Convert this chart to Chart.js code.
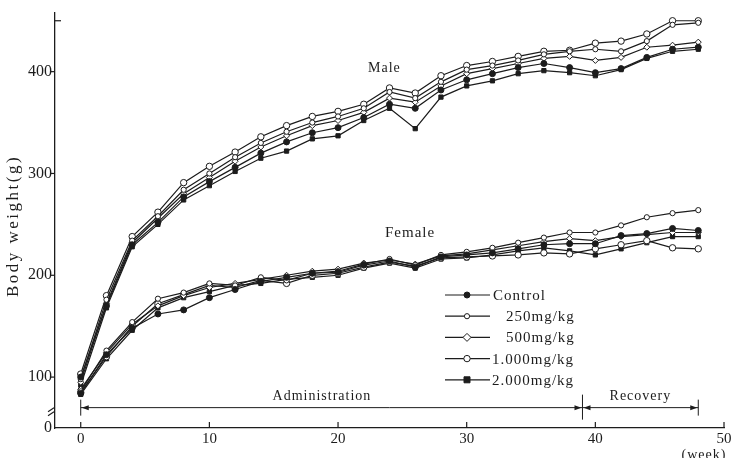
<!DOCTYPE html>
<html>
<head>
<meta charset="utf-8">
<title>Body weight</title>
<script src="https://cdn.jsdelivr.net/npm/chart.js@4.4.0/dist/chart.umd.min.js"></script>
<style>
  html, body { margin: 0; padding: 0; background: #fff; }
  #wrap { width: 735px; height: 458px; }
</style>
</head>
<body>
<div id="wrap"><canvas id="bw"></canvas></div>
<script>
// weeks of measurement
var weeks = [0, 2, 4, 6, 8, 10, 12, 14, 16, 18, 20, 22, 24, 26, 28, 30, 32, 34, 36, 38, 40, 42, 44, 46, 48];
var groups = ['Control', '250mg/kg', '500mg/kg', '1.000mg/kg', '2.000mg/kg'];

// male body weight (g)
var maleControl = [100, 170, 230, 252, 277, 292, 306, 320, 331, 340, 345, 355, 368, 364, 382, 392, 398, 404, 408, 404, 399, 403, 414, 422, 424];
var male250 = [98, 176, 234, 258, 284, 300, 316, 330, 341, 350, 356, 364, 380, 374, 390, 402, 406, 411, 417, 420, 422, 420, 430, 446, 448];
var male500 = [95, 172, 232, 256, 280, 296, 312, 326, 337, 347, 352, 360, 374, 370, 386, 398, 403, 408, 413, 415, 411, 414, 424, 426, 429];
var male1000 = [103, 180, 238, 262, 291, 307, 321, 336, 347, 356, 361, 368, 384, 379, 396, 406, 410, 415, 420, 421, 428, 430, 437, 450, 450];
var male2000 = [92, 168, 228, 250, 274, 288, 302, 315, 322, 334, 337, 352, 364, 344, 375, 386, 391, 398, 401, 399, 396, 402, 413, 420, 422];

// female body weight (g)
var femaleControl = [84, 122, 148, 162, 166, 178, 186, 194, 198, 202, 203, 210, 214, 208, 218, 220, 222, 226, 230, 231, 231, 239, 241, 246, 244];
var female250 = [86, 126, 154, 177, 183, 192, 190, 198, 195, 202, 204, 211, 216, 210, 220, 223, 227, 232, 237, 242, 242, 249, 257, 261, 264];
var female500 = [88, 124, 152, 170, 180, 188, 192, 196, 200, 204, 206, 212, 215, 211, 219, 221, 225, 229, 233, 236, 234, 238, 240, 242, 242];
var female1000 = [85, 120, 150, 172, 181, 190, 188, 195, 192, 200, 202, 208, 213, 209, 217, 218, 219, 220, 222, 221, 226, 230, 234, 227, 226];
var female2000 = [83, 118, 146, 168, 178, 184, 190, 192, 196, 198, 200, 207, 212, 207, 216, 217, 220, 224, 227, 224, 220, 226, 232, 238, 238];

var xTicks = [0, 10, 20, 30, 40, 50];
var yTicks = [100, 200, 300, 400];

var INK = '#1c1c1c';
var SERIF = '"Liberation Serif", "DejaVu Serif", serif';

// marker per dose group
var marks = [
  { shape: 'circle', r: 3, fill: INK },
  { shape: 'circle', r: 2.6, fill: '#fff' },
  { shape: 'rectRot', r: 3, fill: '#fff' },
  { shape: 'circle', r: 3.2, fill: '#fff' },
  { shape: 'rect', r: 3, fill: INK }
];

function series(label, values, m) {
  return {
    label: label,
    data: values.map(function (v, i) { return { x: weeks[i], y: v }; }),
    borderColor: INK,
    borderWidth: 1.2,
    tension: 0,
    pointStyle: m.shape,
    pointRadius: m.r,
    pointBackgroundColor: m.fill,
    pointBorderColor: INK,
    pointBorderWidth: 1
  };
}

var male = [maleControl, male250, male500, male1000, male2000];
var female = [femaleControl, female250, female500, female1000, female2000];
var datasets = [];
groups.forEach(function (g, i) {
  datasets.push(series('Male ' + g, male[i], marks[i]));
  datasets.push(series('Female ' + g, female[i], marks[i]));
});

function line(ctx, x1, y1, x2, y2) {
  ctx.beginPath(); ctx.moveTo(x1, y1); ctx.lineTo(x2, y2); ctx.stroke();
}
function head(ctx, x, y, dir) {
  ctx.beginPath();
  ctx.moveTo(x, y);
  ctx.lineTo(x - dir * 7, y - 2.5);
  ctx.lineTo(x - dir * 7, y + 2.5);
  ctx.closePath(); ctx.fill();
}
function marker(ctx, m, x, y) {
  ctx.fillStyle = m.fill; ctx.strokeStyle = INK; ctx.lineWidth = 1;
  ctx.beginPath();
  if (m.shape === 'circle') ctx.arc(x, y, m.r, 0, Math.PI * 2);
  else if (m.shape === 'rect') ctx.rect(x - m.r, y - m.r, m.r * 2, m.r * 2);
  else { ctx.moveTo(x, y - m.r - 1); ctx.lineTo(x + m.r + 1, y); ctx.lineTo(x, y + m.r + 1); ctx.lineTo(x - m.r - 1, y); ctx.closePath(); }
  ctx.fill(); ctx.stroke();
}

var decor = {
  id: 'decor',
  afterDraw: function (chart) {
    var ctx = chart.ctx, xs = chart.scales.x, ys = chart.scales.y, a = chart.chartArea;
    ctx.save();
    ctx.strokeStyle = INK; ctx.fillStyle = INK; ctx.lineWidth = 1.2;

    // tick marks
    xTicks.forEach(function (v) { var px = xs.getPixelForValue(v); line(ctx, px, a.bottom, px, a.bottom - 6); });
    yTicks.forEach(function (v) { var py = ys.getPixelForValue(v); line(ctx, a.left - 5, py, a.left, py); });
    var pt = ys.getPixelForValue(450);
    line(ctx, a.left, pt, a.left + 6, pt);

    // axis break
    var yb = ys.getPixelForValue(67);
    line(ctx, a.left - 7, yb + 1, a.left - 1, yb - 3);
    line(ctx, a.left - 7, yb + 5, a.left - 1, yb + 1);

    // administration / recovery periods
    var ya = ys.getPixelForValue(70);
    var x0 = xs.getPixelForValue(0), x1 = xs.getPixelForValue(39), x2 = xs.getPixelForValue(48);
    ctx.lineWidth = 1;
    line(ctx, x0, ya, x2, ya);
    line(ctx, x0, ya - 8, x0, ya + 8);
    line(ctx, x1, ya - 13, x1, ya + 12);
    line(ctx, x2, ya - 8, x2, ya + 8);
    head(ctx, x0 + 1, ya, -1); head(ctx, x1 - 1, ya, 1);
    head(ctx, x1 + 1, ya, -1); head(ctx, x2 - 1, ya, 1);

    ctx.textAlign = 'center'; ctx.textBaseline = 'middle';
    ctx.font = '14px ' + SERIF;
    ctx.letterSpacing = '1px';
    ctx.fillText('Administration', xs.getPixelForValue(18.75), ys.getPixelForValue(81));
    ctx.fillText('Recovery', xs.getPixelForValue(43.5), ys.getPixelForValue(81));
    ctx.fillText('Male', xs.getPixelForValue(23.6), ys.getPixelForValue(403));
    ctx.font = '15px ' + SERIF;
    ctx.fillText('Female', xs.getPixelForValue(25.6), ys.getPixelForValue(241));

    // x title, cut at the bottom edge
    ctx.font = '14px ' + SERIF;
    ctx.textBaseline = 'top';
    ctx.fillText('(week)', 704, 448);

    // y title
    ctx.save();
    ctx.translate(14, 226);
    ctx.rotate(-Math.PI / 2);
    ctx.textBaseline = 'middle';
    ctx.font = '17px ' + SERIF;
    ctx.letterSpacing = '2.5px';
    ctx.fillText('Body weight(g)', 0, 0);
    ctx.restore();

    // legend
    ctx.textAlign = 'left'; ctx.textBaseline = 'middle';
    ctx.font = '15px ' + SERIF;
    ctx.letterSpacing = '1px';
    var textX = [493, 506, 506, 492, 492];
    groups.forEach(function (g, i) {
      var ly = 295 + i * 21.2;
      ctx.strokeStyle = INK; ctx.lineWidth = 1.2;
      line(ctx, 445, ly, 490, ly);
      marker(ctx, marks[i], 467, ly);
      ctx.fillStyle = INK;
      ctx.fillText(g, textX[i], ly + 1);
    });
    ctx.restore();
  }
};

new Chart(document.getElementById('bw'), {
  type: 'line',
  data: { datasets: datasets },
  options: {
    responsive: true,
    maintainAspectRatio: false,
    animation: false,
    layout: { padding: { top: 12, right: 11, left: 0, bottom: 0 } },
    plugins: { legend: { display: false }, tooltip: { enabled: false } },
    scales: {
      x: {
        type: 'linear', min: -2, max: 50,
        afterBuildTicks: function (s) { s.ticks = xTicks.map(function (v) { return { value: v }; }); },
        afterFit: function (s) { s.height = 30; },
        grid: { display: false, drawTicks: false },
        border: { display: true, color: INK, width: 1.3 },
        ticks: { color: INK, padding: 2, maxRotation: 0, font: { family: SERIF, size: 15 } }
      },
      y: {
        type: 'linear', min: 50, max: 458,
        afterBuildTicks: function (s) { s.ticks = [50].concat(yTicks).map(function (v) { return { value: v }; }); },
        afterFit: function (s) { s.width = 55; },
        grid: { display: false, drawTicks: false },
        border: { display: true, color: INK, width: 1.3 },
        ticks: {
          color: INK, padding: 3, font: { family: SERIF, size: 16 },
          callback: function (v) { return v === 50 ? '0' : String(v); }
        }
      }
    }
  },
  plugins: [decor]
});
</script>
</body>
</html>
